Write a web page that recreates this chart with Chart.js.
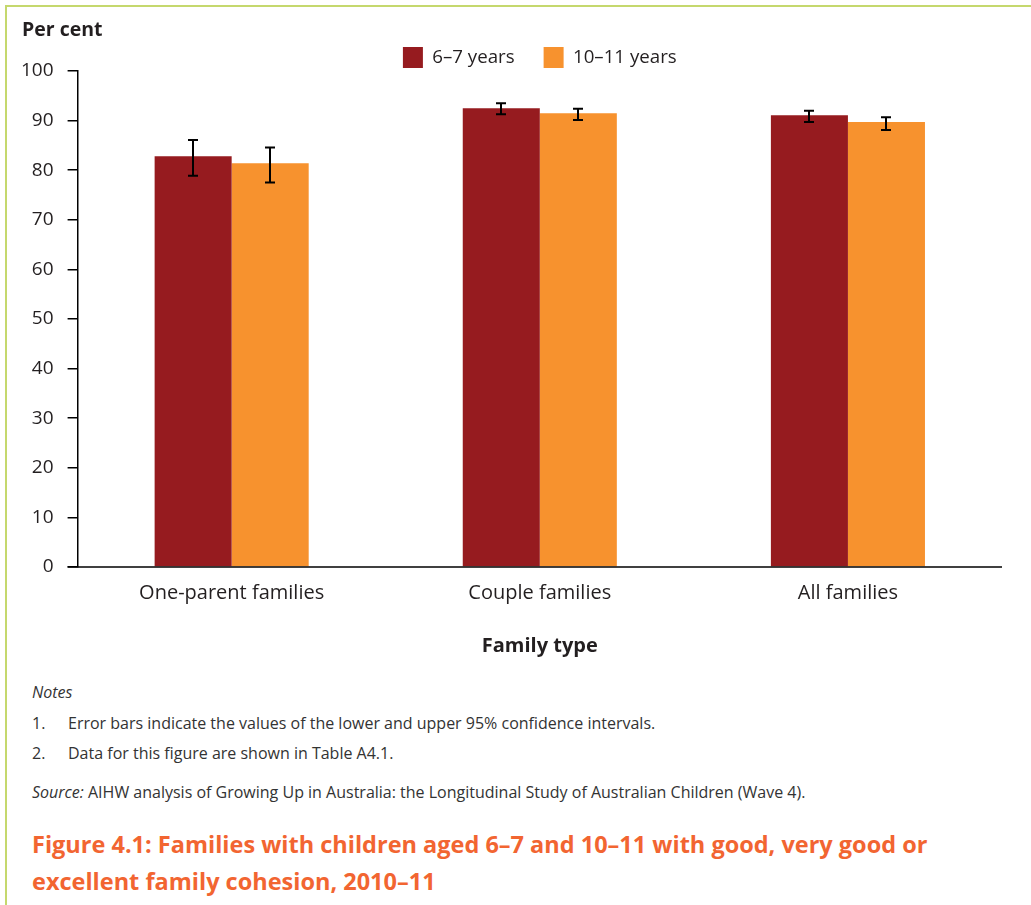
<!DOCTYPE html>
<html>
<head>
<meta charset="utf-8">
<script src="https://cdn.jsdelivr.net/npm/chart.js@4/dist/chart.umd.min.js"></script>
<style>
  html, body { margin: 0; padding: 0; background: #fff; }
  body { width: 1031px; height: 905px; position: relative; overflow: hidden; font-family: "Open Sans", "Noto Sans", sans-serif; color: #231f20; }
  .frame { position: absolute; left: 5px; top: 5px; right: 0; bottom: 0; border-top: 2px solid #c5d86d; border-left: 2px solid #c5d86d; }
  #wrap { position: absolute; left: 0; top: 0; width: 1031px; height: 670px; }
  .t { position: absolute; white-space: nowrap; }
  .notes { font-size: 16px; color: #333; }
  .title { font-size: 23.5px; font-weight: 700; color: #f26531; left: 32px; line-height: 37px; }
</style>
</head>
<body>
<div class="frame"></div>
<div id="wrap"><canvas id="c" width="1031" height="670"></canvas></div>
<div class="t notes" style="left:32px; top:681px;"><i>Notes</i></div>
<div class="t notes" style="left:32px; top:712px;">1.</div>
<div class="t notes" style="left:68px; top:712px;">Error bars indicate the values of the lower and upper 95% confidence intervals.</div>
<div class="t notes" style="left:32px; top:742px;">2.</div>
<div class="t notes" style="left:68px; top:742px;">Data for this figure are shown in Table A4.1.</div>
<div class="t notes" style="left:32px; top:781px;"><i>Source:</i> AIHW analysis of Growing Up in Australia: the Longitudinal Study of Australian Children (Wave 4).</div>
<div class="t title" style="top:826px;">Figure 4.1: Families with children aged 6–7 and 10–11 with good, very good or<br>excellent family cohesion, 2010–11</div>
<script>
// Family types on the x axis
const categories = ['One-parent families', 'Couple families', 'All families'];
const seriesLabels = ['6–7 years', '10–11 years'];

// Per cent of families with good, very good or excellent cohesion
const age6to7 = [82.8, 92.5, 91.1];
const age10to11 = [81.4, 91.5, 89.7];

// Lower and upper 95% confidence intervals
const age6to7Lower = [78.9, 91.3, 89.7];
const age6to7Upper = [86.1, 93.5, 92.0];
const age10to11Lower = [77.5, 90.1, 88.1];
const age10to11Upper = [84.6, 92.4, 90.7];

const yTicks = [0, 10, 20, 30, 40, 50, 60, 70, 80, 90, 100];

const FONT = '"Open Sans", "Noto Sans", sans-serif';
const INK = '#231f20';

const errorBarPlugin = {
  id: 'errorBars',
  afterDatasetsDraw(chart) {
    const ctx = chart.ctx;
    const y = chart.scales.y;
    const bounds = [[age6to7Lower, age6to7Upper], [age10to11Lower, age10to11Upper]];
    ctx.save();
    ctx.strokeStyle = '#000';
    ctx.lineWidth = 2;
    bounds.forEach((b, di) => {
      const meta = chart.getDatasetMeta(di);
      meta.data.forEach((bar, i) => {
        const x = Math.round(bar.x);
        const yl = y.getPixelForValue(b[0][i]);
        const yu = y.getPixelForValue(b[1][i]);
        ctx.beginPath();
        ctx.moveTo(x, yl); ctx.lineTo(x, yu);
        ctx.moveTo(x - 5, yl); ctx.lineTo(x + 5, yl);
        ctx.moveTo(x - 5, yu); ctx.lineTo(x + 5, yu);
        ctx.stroke();
      });
    });
    ctx.restore();
  }
};

const axisTitlePlugin = {
  id: 'axisTitles',
  afterDraw(chart) {
    const ctx = chart.ctx;
    const a = chart.chartArea;
    ctx.save();
    ctx.fillStyle = INK;
    ctx.font = 'bold 19.5px ' + FONT;
    ctx.textBaseline = 'alphabetic';
    ctx.textAlign = 'left';
    ctx.fillText('Per cent', 22, 36);
    ctx.font = 'bold 20px ' + FONT;
    ctx.textAlign = 'center';
    ctx.fillText('Family type', (a.left + a.right) / 2, 652);
    // x axis line runs left to meet the zero tick
    ctx.strokeStyle = '#000';
    ctx.lineWidth = 1.5;
    ctx.beginPath();
    ctx.moveTo(a.left - 10, a.bottom);
    ctx.lineTo(a.right, a.bottom);
    ctx.stroke();
    ctx.restore();
  }
};

new Chart(document.getElementById('c'), {
  type: 'bar',
  data: {
    labels: categories,
    datasets: [
      { label: seriesLabels[0], data: age6to7, backgroundColor: '#961b1f' },
      { label: seriesLabels[1], data: age10to11, backgroundColor: '#f7922e' }
    ]
  },
  options: {
    responsive: false,
    animation: false,
    devicePixelRatio: 1,
    layout: { padding: { left: 7, right: 29, top: 18, bottom: 59 } },
    datasets: { bar: { categoryPercentage: 0.5, barPercentage: 1 } },
    plugins: {
      legend: {
        position: 'top',
        fullSize: false,
        maxHeight: 53,
        labels: {
          boxWidth: 20, boxHeight: 21, padding: 29,
          color: INK, font: { family: FONT, size: 18.7 }
        }
      },
      tooltip: { enabled: false }
    },
    scales: {
      x: {
        grid: { display: false },
        border: { display: false },
        ticks: { color: INK, font: { family: FONT, size: 20 }, padding: 6 }
      },
      y: {
        min: 0, max: 100,
        afterBuildTicks(axis) { axis.ticks = yTicks.map(v => ({ value: v })); },
        grid: { drawOnChartArea: false, drawTicks: true, tickLength: 10, color: '#000', lineWidth: 1.5 },
        border: { display: true, color: '#000', width: 1.5 },
        ticks: { color: INK, font: { family: FONT, size: 19 }, padding: 14 }
      }
    }
  },
  plugins: [errorBarPlugin, axisTitlePlugin]
});
</script>
</body>
</html>
